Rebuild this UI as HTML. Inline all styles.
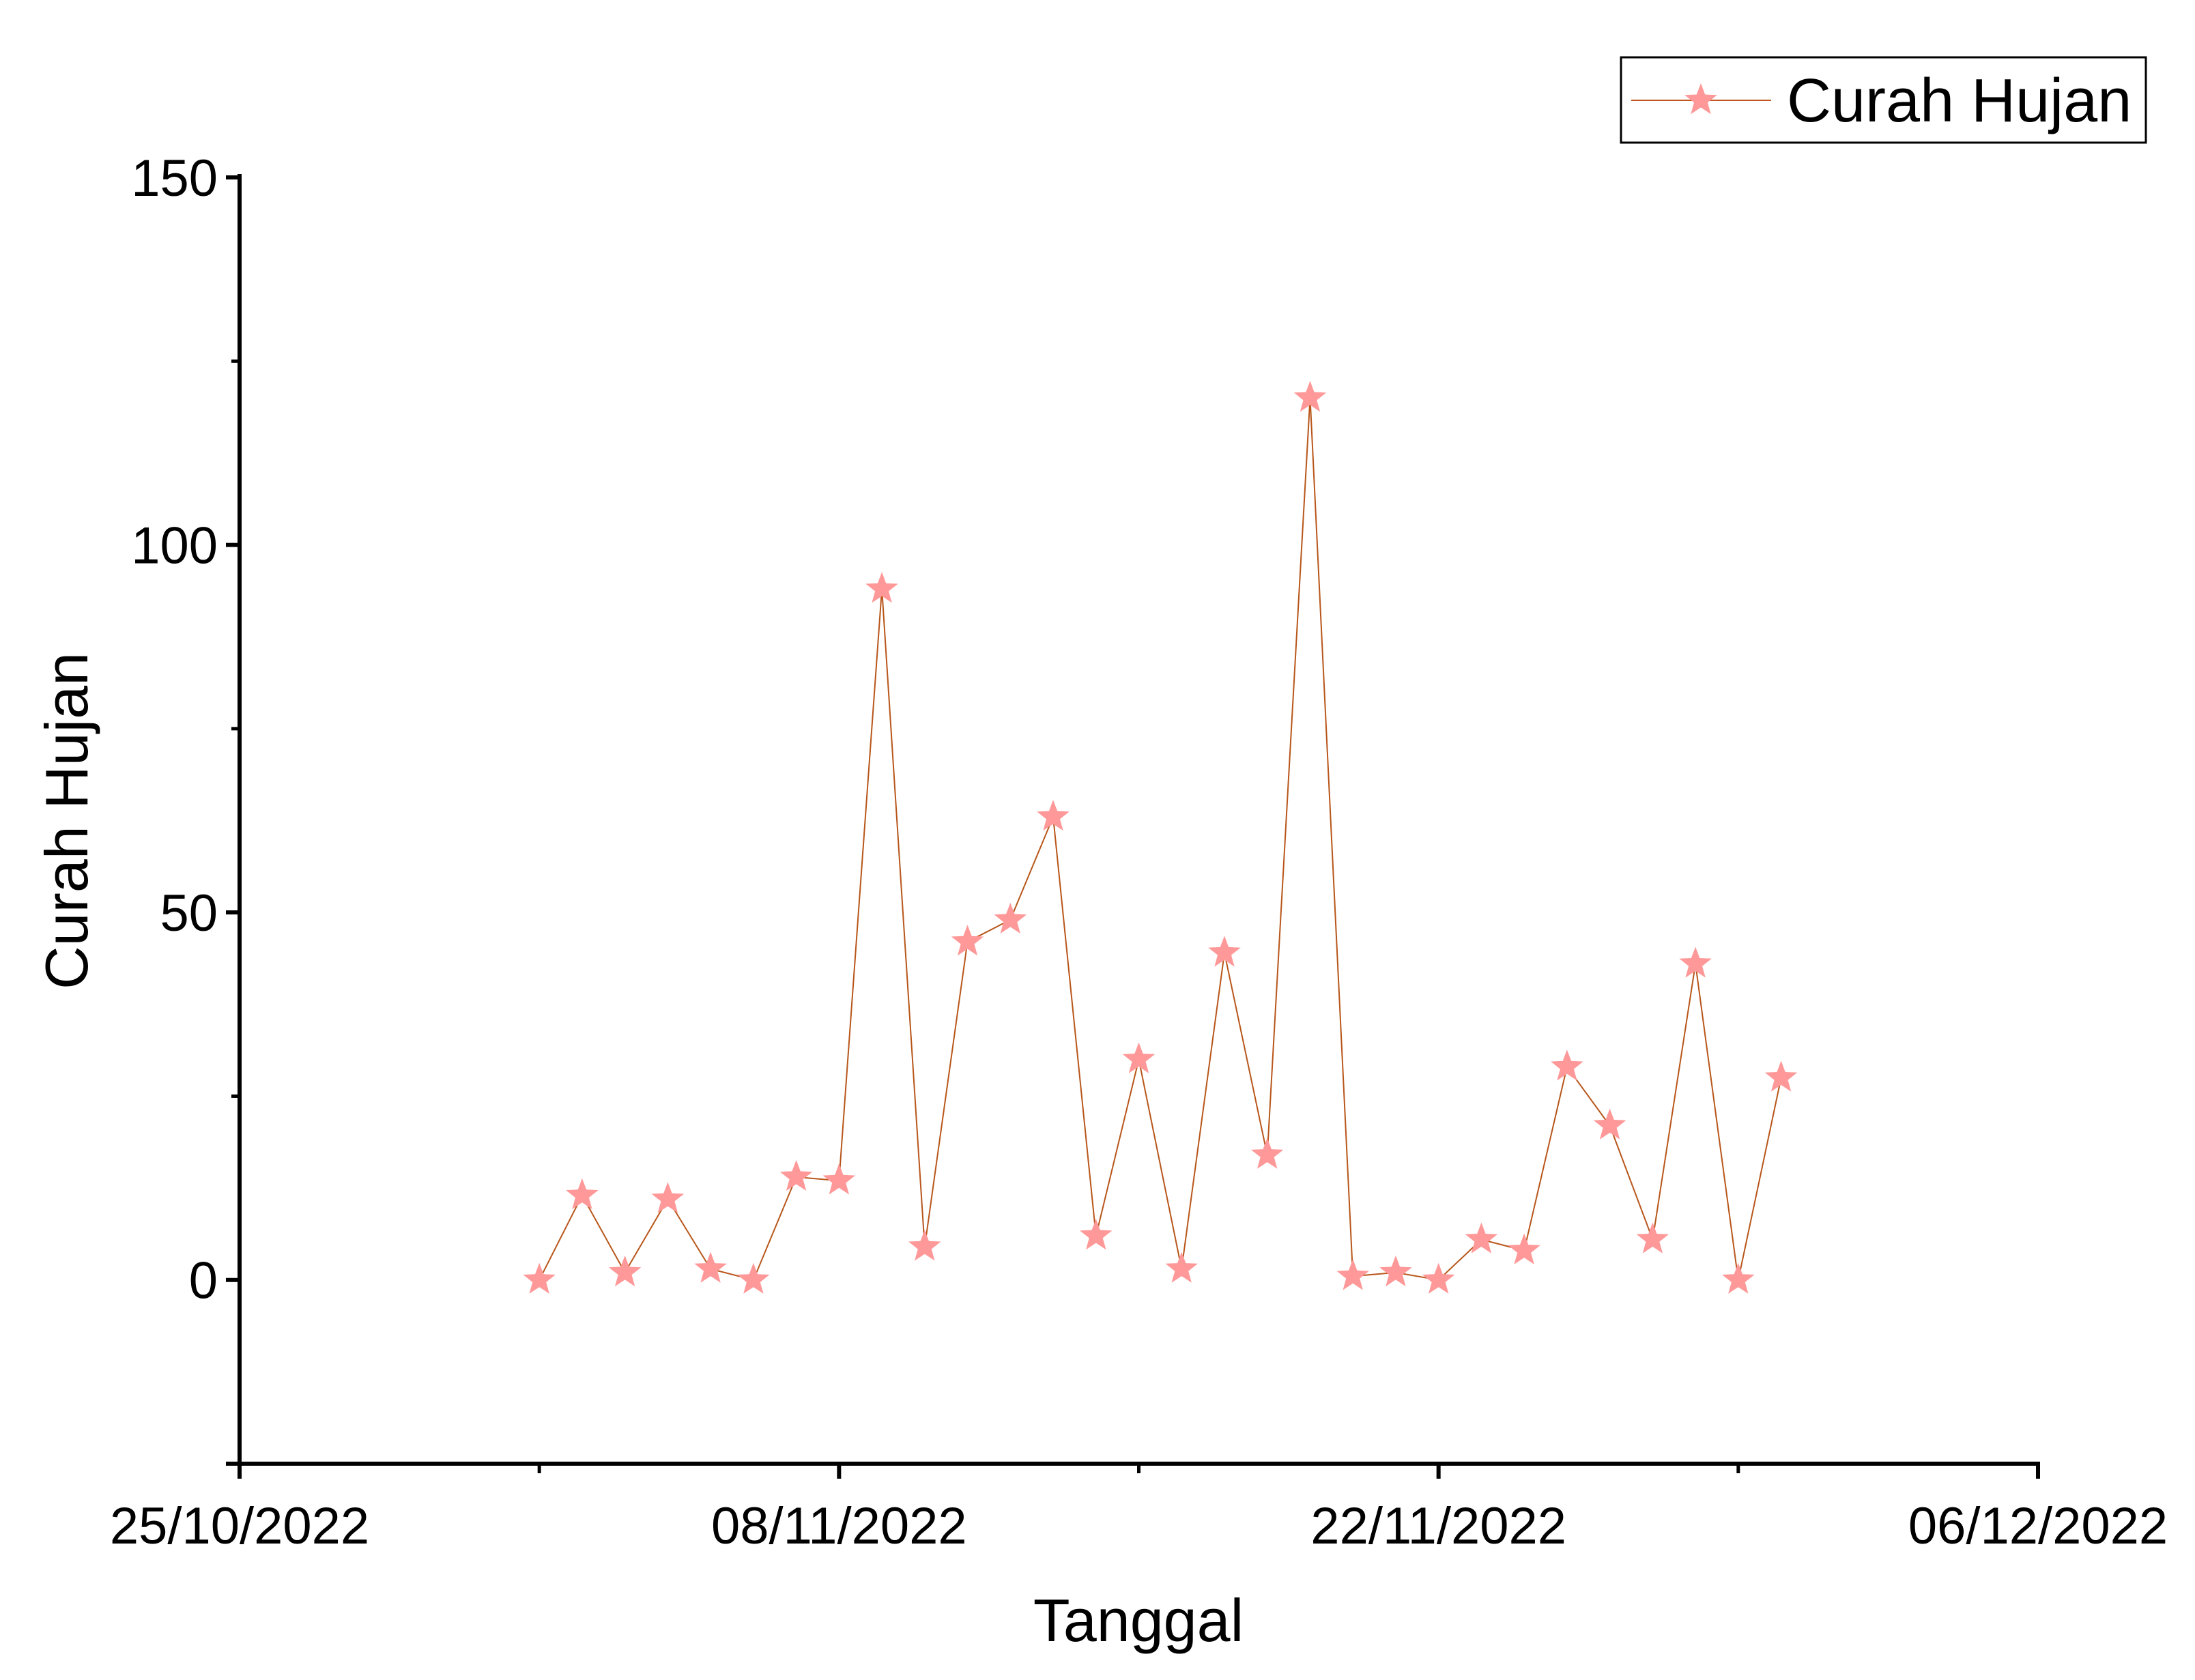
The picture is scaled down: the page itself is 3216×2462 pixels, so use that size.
<!DOCTYPE html>
<html><head><meta charset="utf-8"><style>
html,body{margin:0;padding:0;background:#fff;}
svg{display:block;font-family:"Liberation Sans",Arial,sans-serif;}
</style></head><body>
<svg id="chart" width="3216" height="2462" viewBox="0 0 3216 2462" xmlns="http://www.w3.org/2000/svg">
<rect width="3216" height="2462" fill="#fff"/>
<g id="axes"></g>
<g id="series"></g>
<text x="1668" y="2405" font-size="88" text-anchor="middle">Tanggal</text>
<text transform="translate(128,1203) rotate(-90)" font-size="88" text-anchor="middle">Curah Hujan</text>
<g>
<rect x="2375" y="84" width="769" height="125" fill="#fff" stroke="#000" stroke-width="3"/>
<line x1="2390" y1="147" x2="2595" y2="147" stroke="#c0561f" stroke-width="2"/>
<path d="" id="legstar" fill="#f99"/>
<text x="2618" y="178" font-size="90">Curah Hujan</text>
</g>
</svg>
<script>
const dayLabels = ["01/11","02/11","03/11","04/11","05/11","06/11","07/11","08/11","09/11","10/11","11/11","12/11","13/11","14/11","15/11","16/11","17/11","18/11","19/11","20/11","21/11","22/11","23/11","24/11","25/11","26/11","27/11","28/11","29/11","30/11"];
const dayOffsets = [7,8,9,10,11,12,13,14,15,16,17,18,19,20,21,22,23,24,25,26,27,28,29,30,31,32,33,34,35,36];
const rainfall = [0,11.5,1,11,1.5,0,14,13.5,94,4.5,46,49,63,6,30,1.5,44.5,17,120,0.5,1,0,5.5,4,29,21,5.5,43,0,27.5];
const xTickLabels = ["25/10/2022","08/11/2022","22/11/2022","06/12/2022"];
const xTickDays = [0,14,28,42];
const xMinorDays = [7,21,35];
const yTicks = [0,50,100,150];
const yMinor = [-25,25,75,125];

const NS="http://www.w3.org/2000/svg";
const X0=351,X1=2986,Y0=2145,Ytop=260;
const xs=d=>X0+(X1-X0)*d/42;
const ys=v=>Y0-(Y0-Ytop)*(v+25)/175;
function mk(tag,attrs,parent){const e=document.createElementNS(NS,tag);for(const k in attrs)e.setAttribute(k,attrs[k]);parent.appendChild(e);return e;}
function star(cx,cy,R){const r=R*0.42;let p="";for(let i=0;i<10;i++){const a=-Math.PI/2+i*Math.PI/5;const rr=i%2?r:R;p+=(i?"L":"M")+(cx+rr*Math.cos(a)).toFixed(1)+","+(cy+rr*Math.sin(a)).toFixed(1);}return p+"Z";}
const ax=document.getElementById('axes');
let e=mk('line',{x1:X0,y1:Ytop-5,x2:X0,y2:Y0+3,stroke:'#000','stroke-width':6},ax);


e=mk('line',{x1:X0-20,y1:Y0,x2:X1+3,y2:Y0,stroke:'#000','stroke-width':6},ax);


yTicks.forEach(v=>{
  const t=mk('line',{x1:X0-20,y1:ys(v),x2:X0,y2:ys(v),stroke:'#000','stroke-width':6},ax);
  
  
  const l=mk('text',{x:X0-32,y:ys(v)+27,'font-size':76,'text-anchor':'end'},ax);l.textContent=v;
  
  
});
yMinor.forEach(v=>{
  const t=mk('line',{x1:X0-12,y1:ys(v),x2:X0,y2:ys(v),stroke:'#000','stroke-width':5},ax);
  
  
});
xTickDays.forEach((d,i)=>{
  const t=mk('line',{x1:xs(d),y1:Y0,x2:xs(d),y2:Y0+22,stroke:'#000','stroke-width':6},ax);
  
  
  const l=mk('text',{x:xs(d),y:Y0+117,'font-size':76,'text-anchor':'middle'},ax);l.textContent=xTickLabels[i];
  
  
});
xMinorDays.forEach(d=>{
  const t=mk('line',{x1:xs(d),y1:Y0,x2:xs(d),y2:Y0+14,stroke:'#000','stroke-width':5},ax);
  
  
});
const sg=document.getElementById('series');
const pts=rainfall.map((v,i)=>xs(dayOffsets[i]).toFixed(1)+","+ys(v).toFixed(1)).join(" ");
const pl=mk('polyline',{points:pts,fill:'none',stroke:'#b8561a','stroke-width':2},sg);


rainfall.forEach((v,i)=>{
  const s=mk('path',{d:star(xs(dayOffsets[i]),ys(v),25),fill:'#f99'},sg);
  
  
});
document.getElementById('legstar').setAttribute('d',star(2492,147,25));
</script>
</body></html>
